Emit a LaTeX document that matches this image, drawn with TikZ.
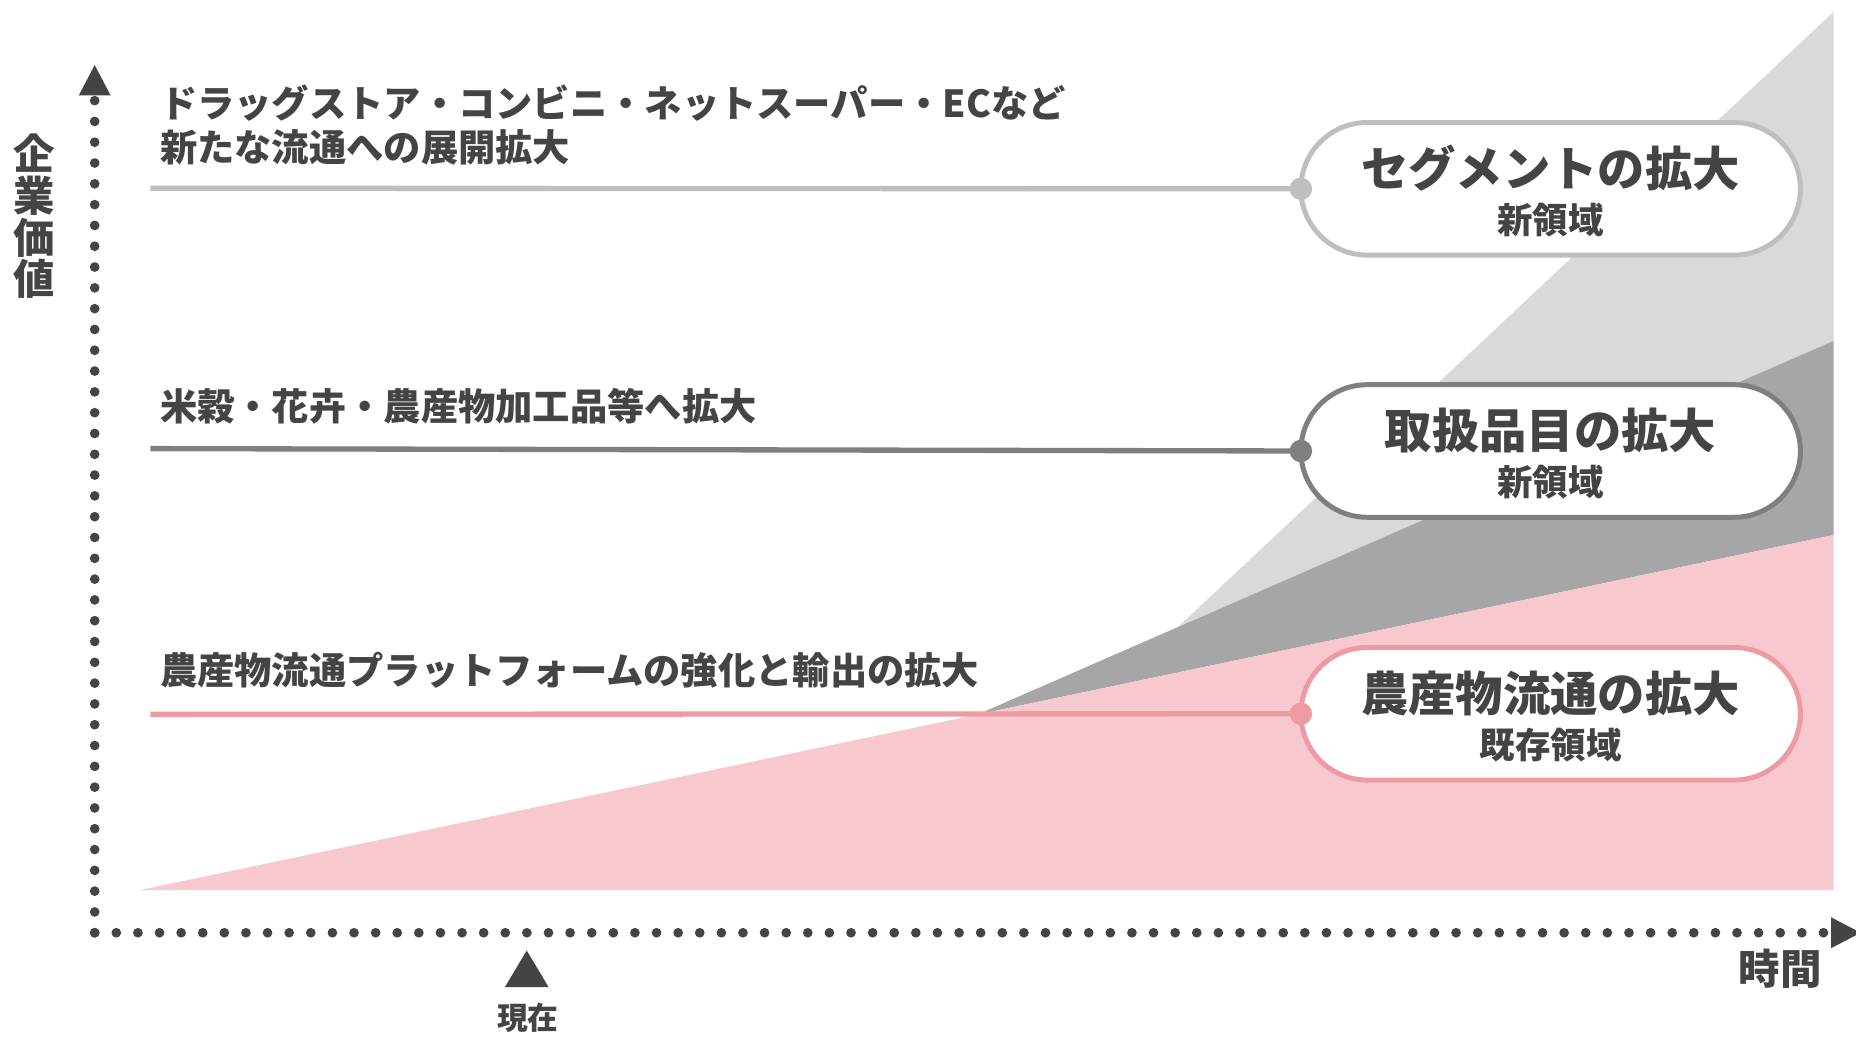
\documentclass[tikz,border=0pt]{standalone}
\usepackage{fontspec}
\setmainfont{Noto Sans CJK JP}
\usetikzlibrary{shapes.misc,calc}
\definecolor{txt}{HTML}{444444}
\definecolor{lgfill}{HTML}{D9D9D9}
\definecolor{dgfill}{HTML}{A6A6A6}
\definecolor{pkfill}{HTML}{F7C9CF}
\definecolor{lgline}{HTML}{BFBFBF}
\definecolor{dgline}{HTML}{7F7F7F}
\definecolor{pkline}{HTML}{EE9AA3}
\begin{document}
\begin{tikzpicture}[x=1pt,y=-1pt,
  lbl/.style={anchor=west, inner sep=0pt, text=txt, font=\bfseries\fontsize{31.5}{37.6}\selectfont, text height=26.5pt, text depth=2.5pt},
  pill/.style={rounded rectangle, draw=#1, line width=4.2pt, fill=white, minimum width=422pt, minimum height=112pt, inner sep=0pt, outer sep=0pt},
  ptitle/.style={inner sep=0pt, text=txt, font=\bfseries\fontsize{40}{44}\selectfont, text height=33.6pt, text depth=3.2pt},
  psub/.style={inner sep=0pt, text=txt, font=\bfseries\fontsize{30}{34}\selectfont, text height=25.2pt, text depth=2.4pt},
  lead/.style={draw=#1, line width=4.5pt},
  knob/.style={circle, fill=#1, minimum size=19pt, inner sep=0pt},
  axisdots/.style={draw=txt, line width=8.2pt, line cap=round, dash pattern=on 0pt off #1},
  axlabel/.style={inner sep=0pt, text=txt, font=\bfseries\fontsize{35}{35.2}\selectfont, align=center}
]
\useasboundingbox (0,0) rectangle (1568,876);
\fill[white] (0,0) rectangle (1568,876);

% areas
\coordinate (pA) at (118,752);
\coordinate (pB) at (1549,452);
\coordinate (pC) at (1549,752);
\coordinate (dA) at ($(pA)!0.4948!(pB)$);
\coordinate (dB) at (1549,288);
\coordinate (lA) at ($(dA)!0.234!(dB)$);
\coordinate (lB) at (1549,10);
\fill[lgfill] (lA) -- (lB) -- (dB) -- cycle;
\fill[dgfill] (dA) -- (dB) -- (pB) -- cycle;
\fill[pkfill] (pA) -- (pB) -- (pC) -- cycle;

% axes
\coordinate (O) at (80,788);
\coordinate (ytop) at (80,85);
\coordinate (xend) at (1540.5,788);
\draw[axisdots=17.575pt] (O) -- (ytop);
\draw[axisdots=18.256pt] (O) -- (xend);
\fill[txt] (80,55) -- (93.4,80.5) -- (66.6,80.5) -- cycle;
\fill[txt] (1572,788) -- (1547,775) -- (1547,801) -- cycle;
\fill[txt] (445,803) -- (463.5,834) -- (426.5,834) -- cycle;

% pills
\node[pill=lgline] (p1) at (1310,159.5) {};
\node[pill=dgline] (p2) at (1310,381) {};
\node[pill=pkline] (p3) at (1310,603) {};

% leads
\coordinate (s1) at (127,159);
\coordinate (s2) at (127,379);
\coordinate (s3) at (127,603.5);
\draw[lead=lgline] (s1) -- (p1.west);
\draw[lead=dgline] (s2) -- (p2.west);
\draw[lead=pkline] (s3) -- (p3.west);
\node[knob=lgline] (k1) at (p1.west) {};
\node[knob=dgline] (k2) at (p2.west) {};
\node[knob=pkline] (k3) at (p3.west) {};

% pill texts
\node[ptitle] (t1) at ($(p1.center)+(0,-17)$) {セグメントの拡大};
\node[psub] (u1) at ($(p1.center)+(0,26.5)$) {新領域};
\node[ptitle] (t2) at ($(p2.center)+(0,-17)$) {取扱品目の拡大};
\node[psub] (u2) at ($(p2.center)+(0,26.5)$) {新領域};
\node[ptitle] (t3) at ($(p3.center)+(0,-17)$) {農産物流通の拡大};
\node[psub] (u3) at ($(p3.center)+(0,26.5)$) {既存領域};

% labels
\node[lbl] (l1a) at (135,87) {ドラッグストア・コンビニ・ネットスーパー・ECなど};
\node[lbl] (l1b) at (135,124.6) {新たな流通への展開拡大};
\node[lbl] (l2) at (135,343.5) {米穀・花卉・農産物加工品等へ拡大};
\node[lbl] (l3) at (135,566.6) {農産物流通プラットフォームの強化と輸出の拡大};

% axis labels
\node[axlabel] (yl) at (28.8,183) {企\\業\\価\\値};
\node[axlabel] (xl) at (1504,818.5) {時間};
\node[inner sep=0pt, text=txt, font=\bfseries\fontsize{26}{28}\selectfont] (now) at (446,860) {現在};
\end{tikzpicture}
\end{document}
